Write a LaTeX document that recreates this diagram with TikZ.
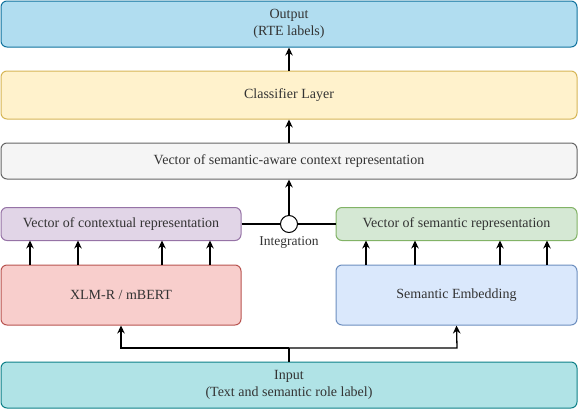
\documentclass[tikz,border=0pt]{standalone}
\usepackage{fontspec}
\setmainfont{Liberation Serif}
\usetikzlibrary{arrows.meta}
\definecolor{outF}{HTML}{B1DDF0}\definecolor{outD}{HTML}{10739E}
\definecolor{clsF}{HTML}{FFF2CC}\definecolor{clsD}{HTML}{D6B656}
\definecolor{vecF}{HTML}{F5F5F5}\definecolor{vecD}{HTML}{666666}
\definecolor{ctxF}{HTML}{E1D5E7}\definecolor{ctxD}{HTML}{9673A6}
\definecolor{semF}{HTML}{D5E8D4}\definecolor{semD}{HTML}{82B366}
\definecolor{xlmF}{HTML}{F8CECC}\definecolor{xlmD}{HTML}{B85450}
\definecolor{embF}{HTML}{DAE8FC}\definecolor{embD}{HTML}{6C8EBF}
\definecolor{inF}{HTML}{B0E3E6}\definecolor{inD}{HTML}{0E8088}
\tikzset{
  box/.style={draw, line width=1pt, rounded corners=6pt, inner sep=0pt, align=center,
    font=\fontsize{14}{16.5}\selectfont, text=black!80},
  conn/.style={line width=1.3pt, -{Stealth[length=8pt,width=7.5pt]}},
  plain/.style={line width=1.3pt},
}
\begin{document}
\begin{tikzpicture}[x=1pt,y=-1pt]
\useasboundingbox (0,0) rectangle (578,410);
\node[box, fill=outF, draw=outD, minimum width=576pt, minimum height=46pt] (out) at (289,24) {Output\\(RTE labels)};
\node[box, fill=clsF, draw=clsD, minimum width=576pt, minimum height=48pt] (cls) at (289,95) {Classifier Layer};
\node[box, fill=vecF, draw=vecD, minimum width=576pt, minimum height=36pt] (vec) at (289,161) {Vector of semantic-aware context representation};
\node[box, fill=ctxF, draw=ctxD, minimum width=240pt, minimum height=33pt] (ctx) at (121,224) {Vector of contextual representation};
\node[box, fill=semF, draw=semD, minimum width=241pt, minimum height=33pt] (sem) at (456.5,224) {Vector of semantic representation};
\node[box, fill=xlmF, draw=xlmD, minimum width=240pt, minimum height=60pt] (xlm) at (121,295) {XLM-R / mBERT};
\node[box, fill=embF, draw=embD, minimum width=241pt, minimum height=60pt] (emb) at (456.5,295) {Semantic Embedding};
\node[box, fill=inF, draw=inD, minimum width=576pt, minimum height=46pt] (in) at (289,385) {Input\\(Text and semantic role label)};
\node[draw, fill=white, circle, line width=1pt, minimum size=17pt, inner sep=0pt] (int) at (289,224) {};
\node[font=\fontsize{13.5}{16}\selectfont, text=black!80, anchor=center, inner sep=0pt] (intlab) at (289,242) {Integration};
\draw[conn] (cls.north) -- (out.south);
\draw[conn] (vec.north) -- (cls.south);
\draw[conn] (int.north) -- (vec.south);
\draw[plain] (ctx.east) -- (int.west);
\draw[plain] (sem.west) -- (int.east);
\foreach \x in {30,78,162,210} \draw[conn] (\x,265) -- (\x,240.5);
\foreach \x in {366,415,500,547} \draw[conn] (\x,265) -- (\x,240.5);
\coordinate (split) at (289,348);
\draw[plain] (in.north) -- (split);
\draw[conn] (split) -- (121,348) -- (xlm.south);
\draw[conn] (split) -- (457,348) -- (emb.south);
\end{tikzpicture}
\end{document}
